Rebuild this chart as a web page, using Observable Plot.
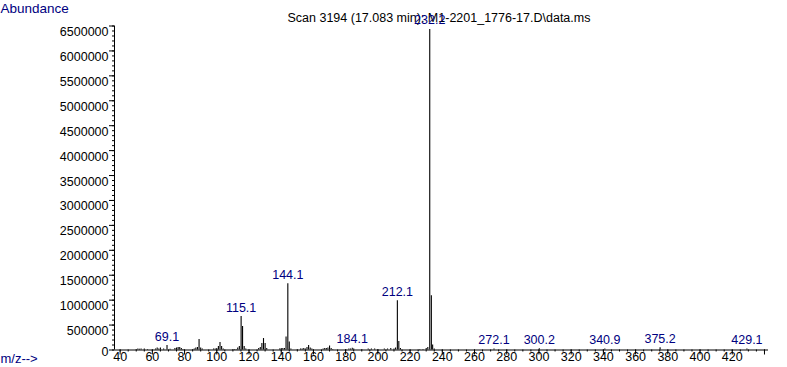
<!DOCTYPE html>
<html>
<head>
<meta charset="utf-8">
<script src="https://cdn.jsdelivr.net/npm/d3@7"></script>
<script src="https://cdn.jsdelivr.net/npm/@observablehq/plot@0.6"></script>
<style>
  html, body { margin: 0; padding: 0; background: #fff; }
  #chart svg { display: block; }
</style>
</head>
<body>
<div id="chart"></div>
<script>
// ---- data ----
const titleText = "Scan 3194 (17.083 min): M1-2201_1776-17.D\\data.ms";
const yAxisTitle = "Abundance";
const xAxisTitle = "m/z-->";

// m/z values and abundances of the spectrum lines
const mz = [
  50, 51, 52, 53, 55, 57,
  62, 63, 64, 65, 67, 69.1, 71, 74, 75, 76, 77, 78, 79,
  85, 86, 87, 88, 89, 90, 91, 98, 99, 100,
  101, 102, 103, 104, 110, 111, 112, 113, 114, 115.1, 116, 117, 118,
  126, 127, 128, 129, 130, 131, 139, 140, 141, 142, 143, 144.1, 145, 146,
  150, 152, 153, 154, 155, 156, 157, 158, 159,
  166, 167, 168, 169, 170, 171, 172,
  180, 182, 183, 184.1, 185, 190, 194, 196, 198, 200,
  204, 206, 208, 210, 211, 212.1, 213, 214,
  226, 228, 230, 231, 232.2, 233.2, 234, 235,
  272.1, 300.2, 340.9, 375.2, 429.1
];
const abundance = [
  10000, 20000, 15000, 20000, 20000, 10000,
  20000, 40000, 20000, 40000, 20000, 90000, 15000, 30000, 40000, 50000, 50000, 30000, 10000,
  10000, 20000, 40000, 50000, 210000, 40000, 20000, 20000, 20000, 30000,
  70000, 150000, 70000, 20000, 10000, 10000, 10000, 40000, 70000, 670000, 470000, 70000, 20000,
  30000, 50000, 130000, 230000, 130000, 30000, 20000, 30000, 30000, 30000, 260000, 1330000, 160000, 20000,
  10000, 20000, 20000, 30000, 20000, 50000, 90000, 40000, 20000,
  20000, 30000, 30000, 40000, 80000, 30000, 10000,
  10000, 20000, 20000, 36000, 20000, 10000, 20000, 20000, 20000, 10000,
  20000, 20000, 30000, 20000, 40000, 990000, 170000, 30000,
  10000, 10000, 30000, 50000, 6430000, 1090000, 100000, 20000,
  20000, 25000, 20000, 45000, 20000
];

// labelled peaks
const labelMz = [69.1, 115.1, 144.1, 184.1, 212.1, 232.2, 272.1, 300.2, 340.9, 375.2, 429.1];
const labelText = ["69.1", "115.1", "144.1", "184.1", "212.1", "232.2", "272.1", "300.2", "340.9", "375.2", "429.1"];

// axes
const xDomain = [36.5, 442.5];
const yDomain = [0, 6500000];
const xMajorTicks = d3.range(40, 441, 20);
const xMinorTicks = d3.range(40, 441, 5);
const xTickLabels = d3.range(40, 421, 20);
const yMajorTicks = d3.range(0, 6500001, 500000);
const yMinorTicks = d3.range(0, 6500001, 100000);

// ---- build ----
const peaks = mz.map((m, i) => ({mz: m, ab: abundance[i]}));
const labels = labelMz.map((m, i) => {
  const j = mz.indexOf(m);
  return {mz: m, ab: abundance[j], text: labelText[i]};
});

const navy = "#000080";
const axisX0 = xDomain[0];
const blank = () => "";

const chart = Plot.plot({
  width: 787,
  height: 367,
  marginLeft: 114,
  marginRight: 19,
  marginTop: 25.5,
  marginBottom: 17.5,
  x: {domain: xDomain, axis: null, label: null},
  y: {domain: yDomain, axis: null, label: null},
  style: {fontFamily: "'Liberation Sans', Arial, sans-serif", fontSize: "12.5px", background: "#fff", color: "#000"},
  marks: [
    // spectrum lines
    Plot.ruleX(peaks, {x: "mz", y1: 0, y2: "ab", stroke: "#000", strokeWidth: 1.1}),
    // axis lines
    Plot.ruleY([0], {stroke: "#000", strokeWidth: 1}),
    Plot.ruleX([axisX0], {stroke: "#000", strokeWidth: 1}),
    // x ticks
    Plot.axisX(xMinorTicks, {tickSize: 2, tickFormat: blank, label: null, stroke: "#000", strokeOpacity: 1}),
    Plot.axisX(xMajorTicks, {tickSize: 5, tickFormat: blank, label: null, stroke: "#000", strokeOpacity: 1}),
    // y ticks
    Plot.axisY(yMinorTicks, {tickSize: 2, tickFormat: blank, label: null, stroke: "#000", strokeOpacity: 1}),
    Plot.axisY(yMajorTicks, {tickSize: 5, tickFormat: blank, label: null, stroke: "#000", strokeOpacity: 1}),
    // x tick labels
    Plot.text(xTickLabels, {x: d => d, y: 0, dy: 7, text: d => String(d), textAnchor: "middle", lineAnchor: "middle", fill: "#000"}),
    // y tick labels
    Plot.text(yMajorTicks.filter(d => d > 0), {x: axisX0, y: d => d, dx: -6, dy: 6, text: d => String(d), textAnchor: "end", lineAnchor: "middle", fill: "#000"}),
    Plot.text(yMajorTicks.filter(d => d === 0), {x: axisX0, y: d => d, dx: -6, dy: 2, text: d => String(d), textAnchor: "end", lineAnchor: "middle", fill: "#000"}),
    // title
    Plot.text([titleText], {frameAnchor: "top-left", dx: 173, dy: -8.5, text: d => d, textAnchor: "start", lineAnchor: "middle", fill: "#000"}),
    // axis titles
    Plot.text([yAxisTitle], {frameAnchor: "top-left", dx: -114, dy: -17.5, text: d => d, textAnchor: "start", lineAnchor: "middle", fill: navy, fontSize: 13.5}),
    Plot.text([xAxisTitle], {frameAnchor: "bottom-left", dx: -114, dy: 8.5, text: d => d, textAnchor: "start", lineAnchor: "middle", fill: navy, fontSize: 13}),
    // peak labels
    Plot.text(labels, {x: "mz", y: "ab", dy: -9, text: "text", textAnchor: "middle", lineAnchor: "middle", fill: navy})
  ]
});
document.getElementById("chart").appendChild(chart);
</script>
</body>
</html>
